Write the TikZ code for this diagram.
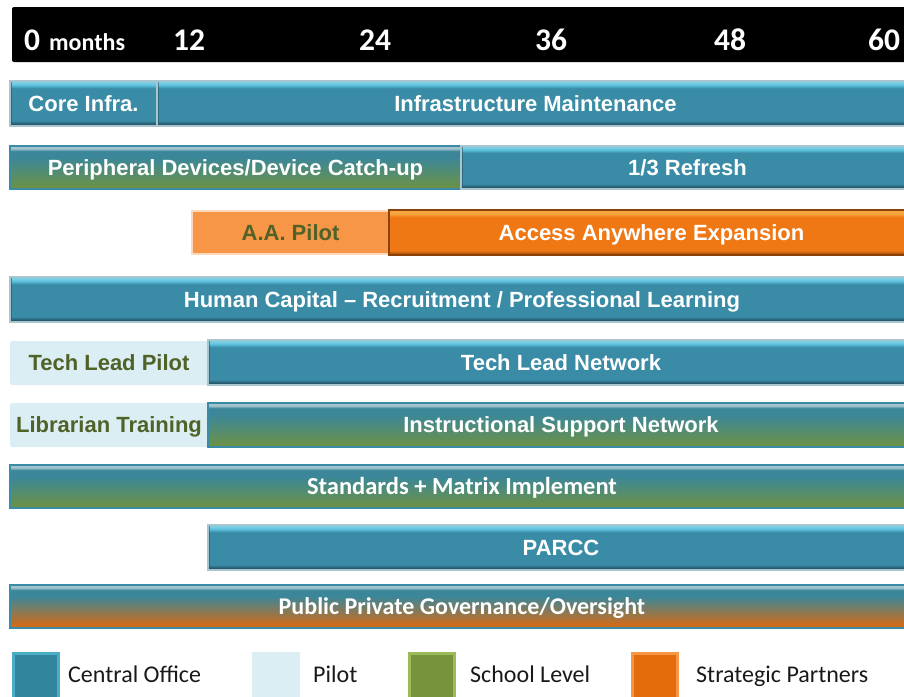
\documentclass[tikz,border=0pt]{standalone}
\usepackage{fontspec}
\setmainfont{Liberation Sans}
\newfontfamily\cbfont{Carlito}

% palette
\definecolor{coBase}{HTML}{3A8CA6}
\definecolor{coDark}{HTML}{24505E}
\definecolor{coMid}{HTML}{2F7088}
\definecolor{coHi}{HTML}{56BCD8}
\definecolor{coHiTop}{HTML}{7ACFE4}
\definecolor{coEdge}{HTML}{A9C6D0}
\definecolor{mixTeal}{HTML}{3B8799}
\definecolor{mixHi}{HTML}{A3C4CE}
\definecolor{slGreen}{HTML}{6B9147}
\definecolor{ppOrange}{HTML}{D26B17}
\definecolor{saOrange}{HTML}{F07814}
\definecolor{saHi}{HTML}{F9A542}
\definecolor{saDark}{HTML}{B3560C}
\definecolor{saEdge}{HTML}{8A4209}
\definecolor{aaFill}{HTML}{F79646}
\definecolor{aaEdge}{HTML}{FCD9BC}
\definecolor{pilotFill}{HTML}{DBEEF3}
\definecolor{pilotText}{HTML}{4F6228}
\definecolor{lgCO}{HTML}{31859C}
\definecolor{lgCOedge}{HTML}{4BACC6}
\definecolor{lgSL}{HTML}{77933C}
\definecolor{lgSLedge}{HTML}{9BBB59}
\definecolor{lgSP}{HTML}{E46C0A}
\definecolor{lgSPedge}{HTML}{F79646}

% bevelled bar shadings (path maps onto 25bp..75bp)
\pgfdeclareverticalshading{coshade}{100bp}{color(0bp)=(coDark); color(25bp)=(coDark); color(26.5bp)=(coDark); color(29bp)=(coMid); color(31bp)=(coBase); color(67bp)=(coBase); color(70bp)=(coHi); color(73bp)=(coHiTop); color(75bp)=(coHiTop); color(100bp)=(coHiTop)}
\pgfdeclareverticalshading{slshade}{100bp}{color(0bp)=(slGreen); color(25bp)=(slGreen); color(27bp)=(slGreen); color(62bp)=(mixTeal); color(69bp)=(mixTeal); color(72bp)=(mixHi); color(75bp)=(mixHi); color(100bp)=(mixHi)}
\pgfdeclareverticalshading{ppshade}{100bp}{color(0bp)=(ppOrange); color(25bp)=(ppOrange); color(28bp)=(ppOrange); color(62bp)=(mixTeal); color(69bp)=(mixTeal); color(72bp)=(mixHi); color(75bp)=(mixHi); color(100bp)=(mixHi)}
\pgfdeclareverticalshading{sashade}{100bp}{color(0bp)=(saEdge); color(25bp)=(saEdge); color(27bp)=(saDark); color(30bp)=(saOrange); color(67bp)=(saOrange); color(71bp)=(saHi); color(75bp)=(saHi); color(100bp)=(saHi)}

\tikzset{
  bar/.style={rectangle, anchor=north west, inner sep=0pt, outer sep=0pt,
    text=white, font=\bfseries\fontsize{22}{26}\selectfont,
    text height=15.5pt, text depth=0pt, line width=1.2pt},
  leftbevel/.style={path picture={\fill[coDark,opacity=.55]
    (path picture bounding box.north west) rectangle
    ([xshift=2pt]path picture bounding box.south west);}},
  cobar/.style={bar, shading=coshade, draw=coEdge, leftbevel},
  slbar/.style={bar, shading=slshade, draw=coBase},
  ppbar/.style={bar, shading=ppshade, draw=coBase},
  sabar/.style={bar, shading=sashade, draw=saEdge},
  pilotbox/.style={bar, fill=pilotFill, rounded corners=2pt, text=pilotText},
  aabox/.style={bar, fill=aaFill, draw=aaEdge, line width=1.5pt, text=pilotText},
  calibribar/.style={font=\cbfont\bfseries\fontsize{24.5}{28}\selectfont},
  hdrbig/.style={anchor=base west, inner sep=0pt, text=white,
    font=\cbfont\bfseries\fontsize{31.5}{34}\selectfont},
  hdrsmall/.style={anchor=base west, inner sep=0pt, text=white,
    font=\cbfont\bfseries\fontsize{24}{27}\selectfont},
  legbox/.style={rectangle, anchor=north west, inner sep=0pt, outer sep=0pt,
    minimum width=45pt, minimum height=46pt, line width=3pt},
  legtext/.style={anchor=base west, inner sep=0pt, text=black!90,
    font=\cbfont\fontsize{24}{28}\selectfont}
}

\begin{document}
\begin{tikzpicture}[x=1pt, y=-1pt]
  \useasboundingbox (0,0) rectangle (904,696);
  \clip (0,0) rectangle (904,696);

  % time axis band
  \fill[black, rounded corners=2pt] (12,7) rectangle (920,62);
  \node[hdrbig]   (t0)  at (24,50)  {0};
  \node[hdrsmall] (tm)  at (49,50)  {months};
  \node[hdrbig]   (t12) at (173,50) {12};
  \node[hdrbig]   (t24) at (359,50) {24};
  \node[hdrbig]   (t36) at (535,50) {36};
  \node[hdrbig]   (t48) at (714,50) {48};
  \node[hdrbig]   (t60) at (868,50) {60};

  % infrastructure
  \node[cobar, minimum width=147pt, minimum height=45pt] (core)  at (10,81)  {Core Infra.};
  \node[cobar, minimum width=757pt, minimum height=45pt] (infra) at (157,81) {Infrastructure Maintenance};

  % devices
  \node[slbar, minimum width=451pt, minimum height=43pt] (periph)  at (10,146)  {Peripheral Devices/Device Catch-up};
  \node[cobar, minimum width=453pt, minimum height=43pt] (refresh) at (461,146) {1/3 Refresh};

  % access anywhere
  \node[aabox, minimum width=197pt, minimum height=43pt] (aapilot) at (192,211) {A.A. Pilot};
  \node[sabar, minimum width=525pt, minimum height=45pt] (aaexp)   at (389,210) {Access Anywhere Expansion};

  % human capital
  \node[cobar, minimum width=904pt, minimum height=45pt] (human) at (10,277) {Human Capital -- Recruitment / Professional Learning};

  % tech leads
  \node[pilotbox, minimum width=198pt, minimum height=44pt] (tlpilot) at (10,341)  {Tech Lead Pilot};
  \node[cobar,    minimum width=706pt, minimum height=45pt] (tlnet)   at (208,340) {Tech Lead Network};

  % librarians
  \node[pilotbox, minimum width=198pt, minimum height=44pt] (libr) at (10,403)  {Librarian Training};
  \node[slbar,    minimum width=706pt, minimum height=44pt] (isn)  at (208,403) {Instructional Support Network};

  % standards, assessment, governance
  \node[slbar, calibribar, minimum width=904pt, minimum height=43pt] (std)   at (10,465)  {Standards + Matrix Implement};
  \node[cobar,             minimum width=706pt, minimum height=45pt] (parcc) at (208,525) {PARCC};
  \node[ppbar, calibribar, font=\cbfont\bfseries\fontsize{24}{28}\selectfont,
        minimum width=904pt, minimum height=43pt] (ppg) at (10,585) {Public Private Governance/Oversight};

  % legend
  \node[legbox, fill=lgCO, draw=lgCOedge]  (kco) at (13.5,653.5) {};
  \node[legtext] (lco) at (68,682.7)  {Central Office};
  \node[legbox, fill=pilotFill, draw=pilotFill] (kpi) at (253.5,653.5) {};
  \node[legtext] (lpi) at (313,682.7) {Pilot};
  \node[legbox, fill=lgSL, draw=lgSLedge]  (ksl) at (409.5,653.5) {};
  \node[legtext] (lsl) at (470,682.7) {School Level};
  \node[legbox, fill=lgSP, draw=lgSPedge]  (ksp) at (632.5,653.5) {};
  \node[legtext] (lsp) at (696,682.7) {Strategic Partners};
\end{tikzpicture}
\end{document}
